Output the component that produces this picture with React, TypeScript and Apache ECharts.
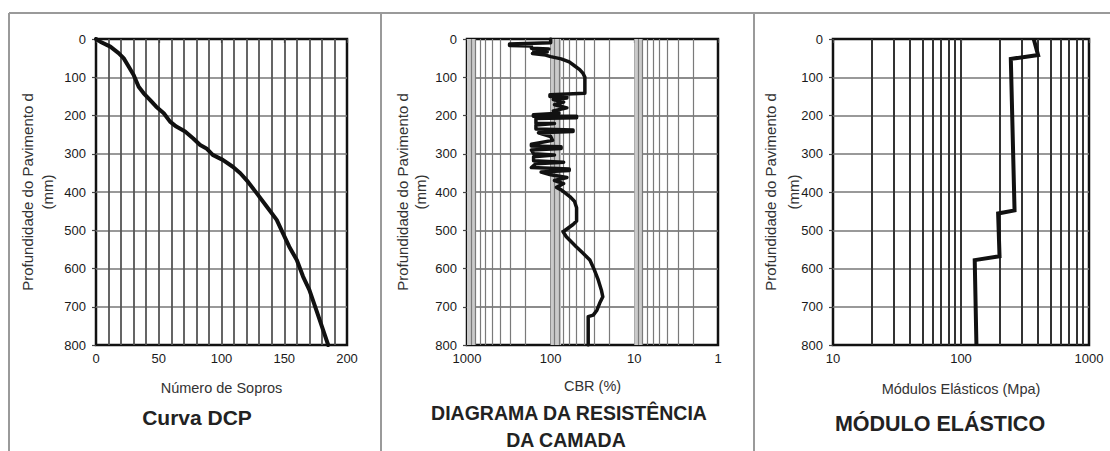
import React, { useEffect, useRef } from "react";
import * as echarts from "echarts";

// ---------- DATA ----------
// Panel 1: DCP curve (blows vs depth)
const dcpBlows = [0, 3.4, 11.4, 18, 22, 26, 30, 34, 38, 43, 48, 54, 59, 64, 71, 77.5, 83, 88, 93, 101, 109, 115, 121, 128, 136, 144, 149, 154, 160, 165, 170, 175.5, 181, 185];
const dcpDepth = [0, 7, 20, 37, 50, 72, 94, 125, 142, 159, 177, 194, 216, 229, 242, 260, 277, 286, 303, 316, 334, 351, 373, 403, 438, 473, 508, 543, 578, 621, 656, 708, 761, 800];

// Panel 2: CBR profile [CBR %, depth mm]
const cbrPoints: [number, number][] = [
  [100, 0], [100, 10], [310, 13], [310, 17], [170, 18], [170, 24], [105, 26], [160, 30], [110, 34], [165, 38],
  [115, 42], [100, 46], [75, 52], [60, 60], [52, 70], [45, 80], [41, 90], [39, 100], [39, 142], [102, 146],
  [102, 150], [64, 150], [64, 154], [93, 158], [70, 165], [90, 172], [64, 180], [93, 188], [80, 194], [161, 198],
  [161, 202], [49, 202], [49, 206], [150, 208], [150, 221], [90, 221], [150, 225], [150, 235], [54, 238], [54, 242],
  [140, 245], [100, 255], [95, 265], [170, 275], [170, 280], [75, 282], [75, 286], [170, 290], [160, 300], [90, 303],
  [160, 308], [160, 318], [70, 322], [150, 326], [170, 336], [60, 340], [60, 344], [130, 348], [100, 355], [64, 362],
  [90, 370], [70, 378], [85, 388], [74, 395], [59, 412], [52, 424], [49, 441], [49, 476], [54, 485], [71, 504],
  [65, 517], [49.5, 543], [41, 560], [34, 578], [30, 604], [27, 630], [24.8, 656], [23.8, 674], [26, 691], [28, 709],
  [31, 722], [35.6, 726], [35.6, 800],
];

// Panel 3: elastic modulus (MPa vs depth)
const modulusValues = [370, 400, 245, 262, 195, 200, 128, 132];
const modulusDepth = [0, 42, 52, 448, 456, 568, 578, 800];

// Log-axis minor grid positions
const cbrGridValues = [2, 3, 4, 5, 6, 7, 8, 9, 20, 30, 40, 50, 60, 70, 80, 90, 200, 300, 400, 500, 600, 700, 800, 900];
const cbrBands: [number, number][] = [[1000, 780], [100, 75], [10, 8]];
const modulusGridValues = [20, 30, 40, 50, 60, 70, 80, 90, 200, 300, 400, 500, 600, 700, 800, 900];

// ---------- STYLE ----------
const FONT = "'Liberation Sans', Arial, Helvetica, sans-serif";
const frame = { show: true, borderColor: "#111", borderWidth: 2.5, backgroundColor: "#fff" };

const tickLabel = { fontFamily: FONT, fontSize: 13, color: "#1a1a1a" };

function yAxisFor(i: number, gridLineColor: string, gridLineWidth: number) {
  return {
    type: "value",
    gridIndex: i,
    inverse: true,
    min: 0,
    max: 800,
    interval: 100,
    axisLine: { show: false },
    axisTick: { show: true, length: 4, lineStyle: { color: "#444", width: 1.2 } },
    axisLabel: { ...tickLabel, margin: 10 },
    splitLine: { show: true, showMinLine: false, showMaxLine: false, lineStyle: { color: gridLineColor, width: gridLineWidth } },
  };
}

function yTitle(x: number, y: number, text: string) {
  return {
    type: "text",
    x,
    y,
    rotation: Math.PI / 2,
    style: { text, fontFamily: FONT, fontSize: 15, fill: "#333", align: "center", verticalAlign: "middle" },
  };
}

function title(x: number, y: number, text: string, size: number) {
  return {
    type: "text",
    x,
    y,
    style: { text, fontFamily: FONT, fontSize: size, fontWeight: "bold", fill: "#222", align: "center", verticalAlign: "middle" },
  };
}

function sep(x1: number, y1: number, x2: number, y2: number) {
  return { type: "line", shape: { x1, y1, x2, y2 }, style: { stroke: "#9a9a9a", lineWidth: 2 } };
}

const option: any = {
  animation: false,
  backgroundColor: "#fff",
  grid: [
    { left: 96, top: 39, width: 251, height: 306, ...frame },
    { left: 467, top: 39, width: 251, height: 306, ...frame },
    { left: 833, top: 39, width: 256, height: 306, ...frame },
  ],
  xAxis: [
    {
      type: "value",
      gridIndex: 0,
      min: 0,
      max: 200,
      interval: 50,
      axisLine: { show: false },
      axisTick: { show: true, length: 4, lineStyle: { color: "#444", width: 1.2 } },
      axisLabel: { ...tickLabel, margin: 7, showMinLabel: true, showMaxLabel: true },
      splitLine: { show: true, showMinLine: false, showMaxLine: false, lineStyle: { color: "#555", width: 1.8 } },
      minorTick: { show: false, splitNumber: 5 },
      minorSplitLine: { show: true, lineStyle: { color: "#555", width: 1.8 } },
      name: "Número de Sopros",
      nameLocation: "middle",
      nameGap: 35,
      nameTextStyle: { fontFamily: FONT, fontSize: 14.5, color: "#333" },
    },
    {
      type: "log",
      logBase: 10,
      gridIndex: 1,
      min: 1,
      max: 1000,
      inverse: true,
      axisLine: { show: false },
      axisTick: { show: true, length: 4, lineStyle: { color: "#444", width: 1.2 } },
      axisLabel: { ...tickLabel, margin: 7, showMinLabel: true, showMaxLabel: true, formatter: (v: number) => String(Math.round(v)) },
      splitLine: { show: true, showMinLine: false, showMaxLine: false, lineStyle: { color: "#444", width: 1.5 } },
      name: "CBR (%)",
      nameLocation: "middle",
      nameGap: 33,
      nameTextStyle: { fontFamily: FONT, fontSize: 14.5, color: "#333" },
    },
    {
      type: "log",
      logBase: 10,
      gridIndex: 2,
      min: 10,
      max: 1000,
      axisLine: { show: false },
      axisTick: { show: true, length: 4, lineStyle: { color: "#444", width: 1.2 } },
      axisLabel: { ...tickLabel, margin: 7, showMinLabel: true, showMaxLabel: true, formatter: (v: number) => String(Math.round(v)) },
      splitLine: { show: true, showMinLine: false, showMaxLine: false, lineStyle: { color: "#333", width: 2 } },
      name: "Módulos Elásticos (Mpa)",
      nameLocation: "middle",
      nameGap: 36,
      nameTextStyle: { fontFamily: FONT, fontSize: 14.5, color: "#333" },
    },
  ],
  yAxis: [yAxisFor(0, "#777", 1.6), yAxisFor(1, "#666", 1.5), yAxisFor(2, "#777", 1.6)],
  series: [
    {
      type: "line",
      xAxisIndex: 0,
      yAxisIndex: 0,
      z: 10,
      showSymbol: false,
      silent: true,
      lineStyle: { color: "#111", width: 4, join: "round", cap: "round" },
      data: dcpBlows.map((b, i) => [b, dcpDepth[i]]),
    },
    {
      // grid helper for CBR log axis (minor lines + shaded bands)
      type: "line",
      xAxisIndex: 1,
      yAxisIndex: 1,
      z: 1,
      silent: true,
      showSymbol: false,
      lineStyle: { opacity: 0 },
      data: cbrPoints,
      markArea: {
        silent: true,
        z: 1,
        itemStyle: { color: "#cacaca" },
        data: cbrBands.map(([a, b]) => [{ xAxis: a }, { xAxis: b }]),
      },
      markLine: {
        silent: true,
        z: 2,
        symbol: "none",
        label: { show: false },
        lineStyle: { color: "#7a7a7a", width: 1.2, type: "solid" },
        data: cbrGridValues.map((v) => ({ xAxis: v })),
      },
    },
    {
      type: "line",
      xAxisIndex: 1,
      yAxisIndex: 1,
      z: 10,
      showSymbol: false,
      silent: true,
      lineStyle: { color: "#111", width: 3.5, join: "round", cap: "round" },
      data: cbrPoints,
    },
    {
      type: "line",
      xAxisIndex: 2,
      yAxisIndex: 2,
      z: 1,
      silent: true,
      showSymbol: false,
      lineStyle: { opacity: 0 },
      data: modulusValues.map((m, i) => [m, modulusDepth[i]]),
      markLine: {
        silent: true,
        z: 2,
        symbol: "none",
        label: { show: false },
        lineStyle: { color: "#333", width: 2, type: "solid" },
        data: modulusGridValues.map((v) => ({ xAxis: v })),
      },
    },
    {
      type: "line",
      xAxisIndex: 2,
      yAxisIndex: 2,
      z: 10,
      showSymbol: false,
      silent: true,
      lineStyle: { color: "#111", width: 4, join: "miter" },
      data: modulusValues.map((m, i) => [m, modulusDepth[i]]),
    },
  ],
  graphic: [
    sep(9, 13, 1110, 13),
    sep(9, 13, 9, 451),
    sep(381, 13, 381, 451),
    sep(754, 13, 754, 451),
    yTitle(27, 192, "Profundidade do Pavimento d"),
    yTitle(47, 192, "(mm)"),
    yTitle(402, 192, "Profundidade do Pavimento d"),
    yTitle(420, 192, "(mm)"),
    yTitle(770, 192, "Profundidade do Pavimento d"),
    yTitle(793, 192, "(mm)"),
    title(197, 417, "Curva DCP", 21),
    title(569, 413, "DIAGRAMA DA RESISTÊNCIA", 19.5),
    title(566, 440, "DA CAMADA", 19.5),
    title(940, 424, "MÓDULO ELÁSTICO", 21.5),
  ],
};

export default function App() {
  const ref = useRef<HTMLDivElement>(null);
  useEffect(() => {
    document.body.style.margin = "0";
    const chart = echarts.init(ref.current!, null, { renderer: "svg" });
    chart.setOption(option);
    return () => chart.dispose();
  }, []);
  return <div ref={ref} style={{ width: 1110, height: 451, background: "#fff" }} />;
}
